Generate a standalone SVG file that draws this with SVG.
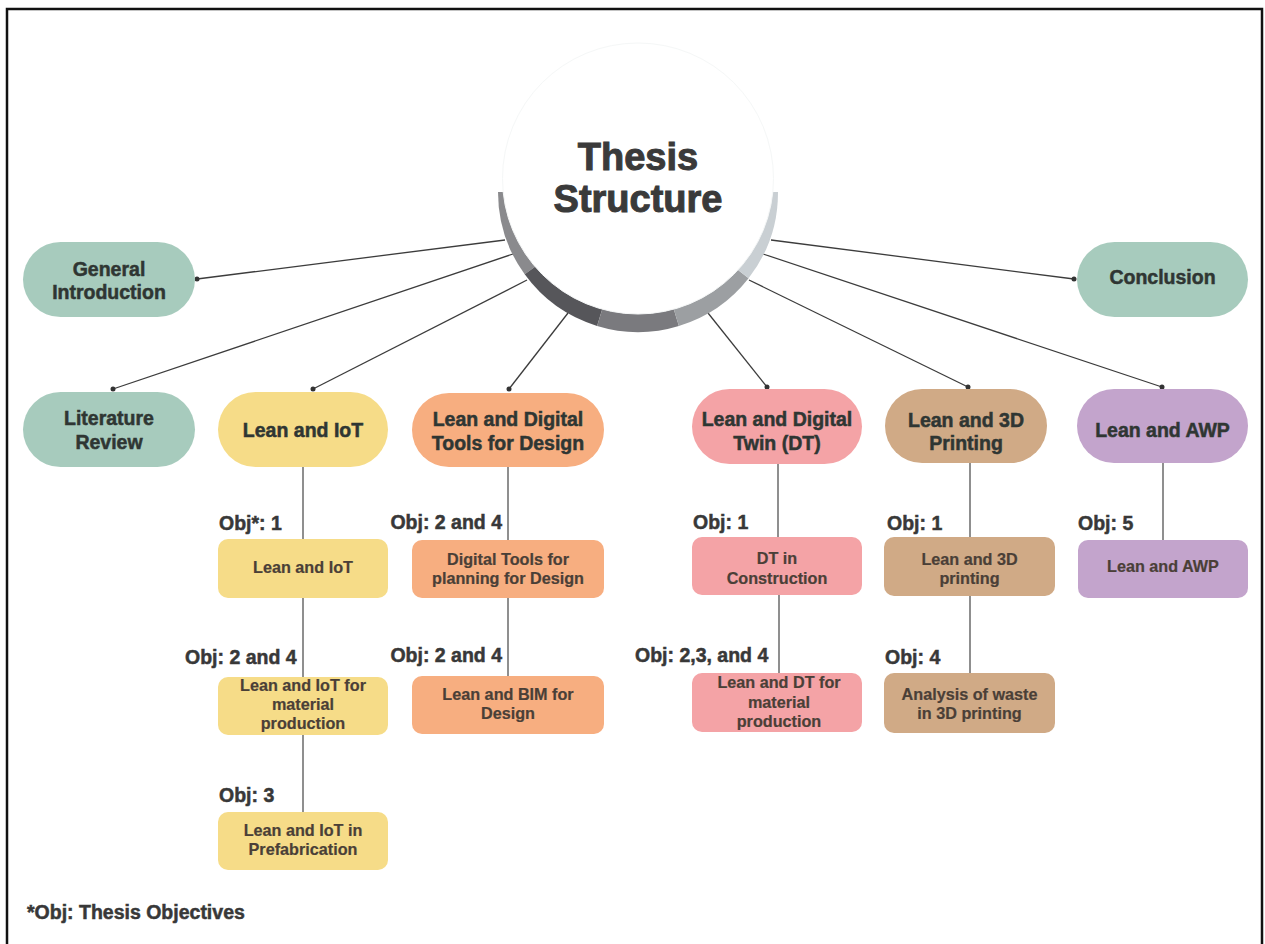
<svg xmlns="http://www.w3.org/2000/svg" width="1265" height="944" viewBox="0 0 1265 944">
<defs>
<style>
.t{font-family:"Liberation Sans",Arial,sans-serif;font-weight:bold;text-anchor:middle}
.main{font-size:19.5px;fill:#2f3633;stroke:#2f3633;stroke-width:0.5}
.sub{font-size:16.2px;fill:#4a3f37;stroke:#4a3f37;stroke-width:0.2}
.obj{font-family:"Liberation Sans",Arial,sans-serif;font-weight:bold;font-size:19.5px;fill:#383838;stroke:#383838;stroke-width:0.5}
.title{font-size:38px;fill:#3a3a3a;stroke:#3a3a3a;stroke-width:1}
.ln{stroke:#3c3c3c;stroke-width:1.3;fill:none}
.vl{stroke:#6a6a6a;stroke-width:1.5;fill:none}
.dot{fill:#333}
.teal{fill:#a7cbbd}.yel{fill:#f6dc88}.ora{fill:#f7ae80}.pnk{fill:#f4a3a6}.tan{fill:#d0aa86}.lav{fill:#c3a4cc}
</style>
</defs>
<rect x="0" y="0" width="1265" height="944" fill="#ffffff"/>
<rect x="7" y="9" width="1255" height="960" fill="none" stroke="#111" stroke-width="2.5"/>

<g id="connectors">
<line class="ln" x1="197" y1="279" x2="505" y2="240"/>
<line class="ln" x1="113" y1="389" x2="513" y2="254"/>
<line class="ln" x1="313" y1="389" x2="527" y2="280"/>
<line class="ln" x1="509" y1="389" x2="568" y2="313"/>
<line class="ln" x1="767" y1="387" x2="708" y2="313"/>
<line class="ln" x1="968" y1="387" x2="749" y2="280"/>
<line class="ln" x1="1162" y1="387" x2="763" y2="254"/>
<line class="ln" x1="1074" y1="279" x2="771" y2="240"/>
<circle class="dot" cx="197" cy="279" r="2.5"/>
<circle class="dot" cx="113" cy="389" r="2.5"/>
<circle class="dot" cx="313" cy="389" r="2.5"/>
<circle class="dot" cx="509" cy="389" r="2.5"/>
<circle class="dot" cx="767" cy="387" r="2.5"/>
<circle class="dot" cx="968" cy="387" r="2.5"/>
<circle class="dot" cx="1162" cy="387" r="2.5"/>
<circle class="dot" cx="1074" cy="279" r="2.5"/>
<line class="vl" x1="303" y1="467" x2="303" y2="539"/>
<line class="vl" x1="303" y1="598" x2="303" y2="677"/>
<line class="vl" x1="303" y1="735" x2="303" y2="812"/>
<line class="vl" x1="508" y1="467" x2="508" y2="540"/>
<line class="vl" x1="508" y1="598" x2="508" y2="676"/>
<line class="vl" x1="778" y1="464" x2="778" y2="537"/>
<line class="vl" x1="779" y1="595" x2="779" y2="673"/>
<line class="vl" x1="970" y1="463" x2="970" y2="537"/>
<line class="vl" x1="970" y1="596" x2="970" y2="673"/>
<line class="vl" x1="1163" y1="463" x2="1163" y2="540"/>
</g>

<g id="thesis-structure">
<path d="M638 192 L498 192 A140 140 0 0 0 524.7 274.3 Z" fill="#8a8a8d"/>
<path d="M638 192 L524.7 274.3 A140 140 0 0 0 597.1 325.9 Z" fill="#56565a"/>
<path d="M638 192 L597.1 325.9 A140 140 0 0 0 678.9 325.9 Z" fill="#7a7a7e"/>
<path d="M638 192 L678.9 325.9 A140 140 0 0 0 748.6 278.2 Z" fill="#9c9fa2"/>
<path d="M638 192 L748.6 278.2 A140 140 0 0 0 778 192 Z" fill="#c9cfd3"/>
<circle cx="638" cy="178.5" r="135.5" fill="#ffffff" stroke="#f5f7f7" stroke-width="1"/>
<text class="t title" x="638" y="170">Thesis</text>
<text class="t title" x="638" y="212">Structure</text>
</g>

<g id="general-introduction">
<rect class="teal" x="23" y="242" width="172" height="75" rx="37.5"/>
<text class="t main" x="109" y="276">General</text>
<text class="t main" x="109" y="299">Introduction</text>
</g>
<g id="conclusion">
<rect class="teal" x="1077" y="242" width="171" height="75" rx="37.5"/>
<text class="t main" x="1162.5" y="284">Conclusion</text>
</g>
<g id="literature-review">
<rect class="teal" x="23" y="392" width="172" height="75" rx="37.5"/>
<text class="t main" x="109" y="425">Literature</text>
<text class="t main" x="109" y="449">Review</text>
</g>
<g id="lean-iot">
<rect class="yel" x="218" y="392" width="170" height="75" rx="37.5"/>
<text class="t main" x="303" y="437">Lean and IoT</text>
</g>
<g id="lean-digital-tools">
<rect class="ora" x="412" y="393" width="192" height="74" rx="37"/>
<text class="t main" x="508" y="426">Lean and Digital</text>
<text class="t main" x="508" y="450">Tools for Design</text>
</g>
<g id="lean-digital-twin">
<rect class="pnk" x="692" y="389" width="170" height="75" rx="37.5"/>
<text class="t main" x="777" y="426">Lean and Digital</text>
<text class="t main" x="777" y="450">Twin (DT)</text>
</g>
<g id="lean-3d-printing">
<rect class="tan" x="885" y="389" width="162" height="74" rx="37"/>
<text class="t main" x="966" y="427">Lean and 3D</text>
<text class="t main" x="966" y="450">Printing</text>
</g>
<g id="lean-awp">
<rect class="lav" x="1077" y="389" width="171" height="74" rx="37"/>
<text class="t main" x="1162.5" y="437">Lean and AWP</text>
</g>

<g id="iot-1">
<text class="obj" x="219" y="530">Obj*: 1</text>
<rect class="yel" x="218" y="539" width="170" height="59" rx="10"/>
<text class="t sub" x="303" y="573">Lean and IoT</text>
</g>
<g id="iot-2">
<text class="obj" x="185" y="664">Obj: 2 and 4</text>
<rect class="yel" x="218" y="677" width="170" height="58" rx="10"/>
<text class="t sub" x="303" y="691">Lean and IoT for</text>
<text class="t sub" x="303" y="710">material</text>
<text class="t sub" x="303" y="729">production</text>
</g>
<g id="iot-3">
<text class="obj" x="219" y="802">Obj: 3</text>
<rect class="yel" x="218" y="812" width="170" height="58" rx="10"/>
<text class="t sub" x="303" y="836">Lean and IoT in</text>
<text class="t sub" x="303" y="855">Prefabrication</text>
</g>

<g id="design-1">
<text class="obj" x="502" y="529" text-anchor="end">Obj: 2 and 4</text>
<rect class="ora" x="412" y="540" width="192" height="58" rx="10"/>
<text class="t sub" x="508" y="565">Digital Tools for</text>
<text class="t sub" x="508" y="584">planning for Design</text>
</g>
<g id="design-2">
<text class="obj" x="502" y="662" text-anchor="end">Obj: 2 and 4</text>
<rect class="ora" x="412" y="676" width="192" height="58" rx="10"/>
<text class="t sub" x="508" y="700">Lean and BIM for</text>
<text class="t sub" x="508" y="719">Design</text>
</g>

<g id="dt-1">
<text class="obj" x="693" y="529">Obj: 1</text>
<rect class="pnk" x="692" y="537" width="170" height="58" rx="10"/>
<text class="t sub" x="777" y="564">DT in</text>
<text class="t sub" x="777" y="584">Construction</text>
</g>
<g id="dt-2">
<text class="obj" x="635" y="662">Obj: 2,3, and 4</text>
<rect class="pnk" x="692" y="673" width="170" height="59" rx="10"/>
<text class="t sub" x="779" y="688">Lean and DT for</text>
<text class="t sub" x="779" y="708">material</text>
<text class="t sub" x="779" y="727">production</text>
</g>

<g id="printing-1">
<text class="obj" x="887" y="530">Obj: 1</text>
<rect class="tan" x="884" y="537" width="171" height="59" rx="10"/>
<text class="t sub" x="969.5" y="565">Lean and 3D</text>
<text class="t sub" x="969.5" y="584">printing</text>
</g>
<g id="printing-2">
<text class="obj" x="885" y="664">Obj: 4</text>
<rect class="tan" x="884" y="673" width="171" height="60" rx="10"/>
<text class="t sub" x="969.5" y="700">Analysis of waste</text>
<text class="t sub" x="969.5" y="719">in 3D printing</text>
</g>

<g id="awp-1">
<text class="obj" x="1078" y="530">Obj: 5</text>
<rect class="lav" x="1078" y="540" width="170" height="58" rx="10"/>
<text class="t sub" x="1163" y="572">Lean and AWP</text>
</g>

<g id="legend">
<text class="obj" x="27" y="919">*Obj: Thesis Objectives</text>
</g>
</svg>
